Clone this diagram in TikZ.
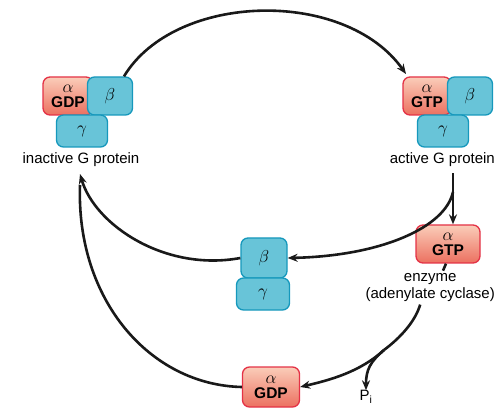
\documentclass[tikz,border=0pt]{standalone}
\usepackage{fontspec}
\setmainfont{Liberation Sans}
\usetikzlibrary{arrows.meta,positioning,calc}
\definecolor{redfill}{RGB}{236,112,96}
\definecolor{redtop}{RGB}{250,205,185}
\definecolor{redline}{RGB}{228,50,70}
\definecolor{bluefill}{RGB}{104,196,216}
\definecolor{blueline}{RGB}{22,152,188}
\newcommand{\greek}[1]{{\fontsize{18}{15}\selectfont$#1$}}

\begin{document}
\begin{tikzpicture}[x=1pt,y=-1pt,
  alpha node/.style={draw=redline,line width=1.3pt,rounded corners=7pt,top color=redtop,bottom color=redfill,minimum height=38pt,inner sep=0pt,align=center,font=\fontsize{15.5}{15}\selectfont\bfseries},
  sub node/.style={draw=blueline,line width=1.3pt,rounded corners=7pt,fill=bluefill,inner sep=0pt,font=\fontsize{17}{16}\selectfont},
  label node/.style={inner sep=0pt,align=center,font=\fontsize{15}{17}\selectfont},
  conn/.style={draw=black!90,line width=2.6pt},
  tip/.style={-{Stealth[length=10pt,width=8pt]}}]
\useasboundingbox (0,0) rectangle (496,409);
% inactive G protein
\node[alpha node,minimum width=50pt] (aI) at (68,96) {\greek{\alpha}\\GDP};
\node[sub node,minimum width=45pt,minimum height=38pt] (bI) at (110,96) {$\beta$};
\node[sub node,minimum width=51pt,minimum height=32pt] (gI) at (82,131) {$\gamma$};
\node[label node] (tI) at (81,160) {inactive G protein};
% active G protein
\node[alpha node,minimum width=48pt] (aA) at (427,96) {\greek{\alpha}\\GTP};
\node[sub node,minimum width=45pt,minimum height=38pt] (bA) at (470,96) {$\beta$};
\node[sub node,minimum width=51pt,minimum height=32pt] (gA) at (443,131) {$\gamma$};
\node[label node,anchor=east] (tA) at (495,160) {active G protein};
% free beta gamma
\node[sub node,minimum width=46pt,minimum height=40pt] (bF) at (264,258) {$\beta$};
\node[sub node,minimum width=53pt,minimum height=32pt] (gF) at (263,294) {$\gamma$};
% alpha on enzyme
\node[alpha node,minimum width=64pt] (aE) at (448,244) {\greek{\alpha}\\GTP};
\node[label node,anchor=north east] (tE) at (495,273) {enzyme\\(adenylate cyclase)};
% alpha with GDP
\node[alpha node,minimum width=57pt,minimum height=40pt] (aD) at (271,387) {\greek{\alpha}\\GDP};
\node[label node] (pi) at (366,397) {P\textsubscript{i}};
\coordinate (back) at (80,174);
\coordinate (split1) at (453,192);
\coordinate (split2) at (384,350);

\begin{scope}[every path/.style={conn}]
\draw[tip] (bI.north) ++(14,0) .. controls (175,-8) and (345,-12) .. (406,74);
\draw (tA.south -| split1) ++(0,6) -- (split1);
\draw[tip] (split1) -- (aE.north -| split1);
\draw[tip] (split1) .. controls (445,228) and (380,256) .. (bF.east);
\draw (aE.south) ++(-2,0) -- ++(-3,7);
\draw (tE.south) ++(-10,3) .. controls (415,322) and (400,338) .. (split2);
\draw[tip] (split2) .. controls (360,372) and (330,380) .. (aD.east);
\draw[tip] (split2) .. controls (370,362) and (366,370) .. (pi.north);
\draw[tip] (bF.west) .. controls (165,272) and (95,225) .. (back);
\draw (aD.west) .. controls (150,385) and (76,300) .. (80,185);
\end{scope}
\end{tikzpicture}
\end{document}
